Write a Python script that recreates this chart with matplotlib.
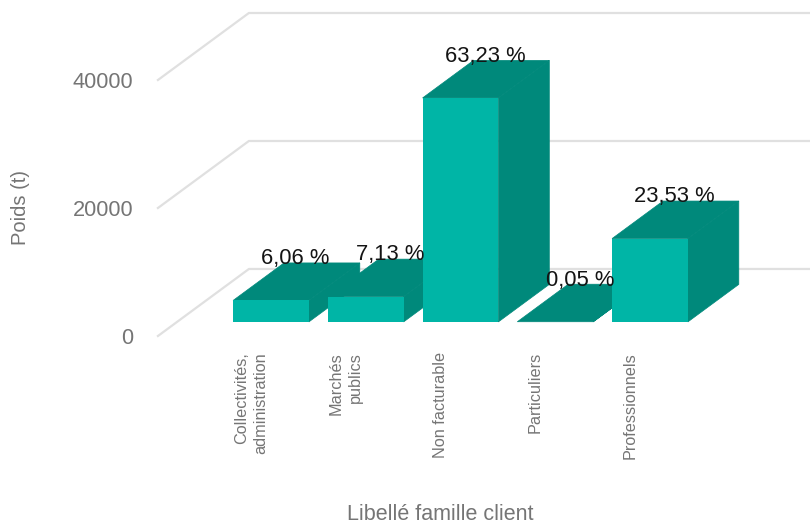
import numpy as np
import matplotlib
matplotlib.use('Agg')
import matplotlib.pyplot as plt

plt.rcParams['font.family'] = ['Liberation Sans', 'DejaVu Sans']

# values
categories = ['Collectivités,\nadministration', 'Marchés\npublics', 'Non facturable',
              'Particuliers', 'Professionnels']
poids = [3354, 3947, 35000, 28, 13025]
pct_labels = ['6,06 %', '7,13 %', '63,23 %', '0,05 %', '23,53 %']
y_ticks = [0, 20000, 40000]

FRONT = '#00B5A6'
DARK = '#00897B'
GRID = '#E0E0E0'
TEXT = '#757575'

# full depth of the floor, in x units and value units
DX = 0.96
DY = 10470
BAR_D0 = 0.21   # depth of bar front
BAR_D = 0.56    # depth of the bar itself
WIDTH = 0.80
GRID_LEFT = -1.193

fig = plt.figure(figsize=(8.1, 5.26), dpi=100)
ax = fig.add_axes([0, 0, 1, 1])
ax.set_xlim(-2.860, 5.689)
ax.set_ylim(-29690, 52500)
ax.axis('off')

# walls: gridlines with the slanted floor part
for t in y_ticks:
    ax.plot([GRID_LEFT, GRID_LEFT + DX, 6], [t, t + DY, t + DY], color=GRID, lw=1.6, zorder=1)
    ax.text(-1.45, t - 400, str(t), ha='right', va='center', fontsize=15.7, color=TEXT)

# bars, left to right so that the next one covers the previous
for i, v in enumerate(poids):
    x0 = i - WIDTH / 2
    x1 = i + WIDTH / 2
    base = BAR_D0 * DY
    ox = BAR_D * DX
    oy = BAR_D * DY
    ax.fill([x1, x1 + ox, x1 + ox, x1], [base, base + oy, base + oy + v, base + v],
            facecolor=DARK, edgecolor=DARK, lw=0.5, zorder=2 + i)
    ax.fill([x0, x1, x1 + ox, x0 + ox], [base + v, base + v, base + oy + v, base + oy + v],
            facecolor=DARK, edgecolor=DARK, lw=0.5, zorder=2 + i)
    ax.bar(i, v, WIDTH, bottom=base, color=FRONT, lw=0, zorder=2 + i)

for i, v in enumerate(poids):
    ax.text(i + 0.26, BAR_D0 * DY + BAR_D * DY + v + 650, pct_labels[i], ha='center',
            va='center', fontsize=15.8, color='#141414', zorder=10)
    ax.text(i - 0.21, -2500, categories[i], rotation=90, ha='center', va='top',
            multialignment='right', fontsize=11.7, color=TEXT, linespacing=1.3)

ax.text(-2.64, 20000, 'Poids (t)', rotation=90, ha='center', va='center', fontsize=14.5, color=TEXT)
ax.text(1.79, -27900, 'Libellé famille client', ha='center', va='center', fontsize=15.5, color=TEXT)

fig.savefig('out.png', dpi=100)
